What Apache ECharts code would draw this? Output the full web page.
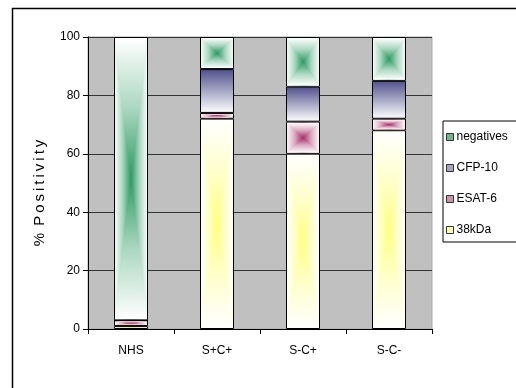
<!DOCTYPE html>
<html>
<head>
<meta charset="utf-8">
<script src="https://cdn.jsdelivr.net/npm/echarts@6/dist/echarts.min.js"></script>
<style>
  html, body { margin: 0; padding: 0; background: #fff; }
  #chart { width: 516px; height: 388px; }
</style>
</head>
<body>
<div id="chart"></div>
<script>
// Groups on the x axis
const categories = ['NHS', 'S+C+', 'S-C+', 'S-C-'];

// Percent positivity for each antigen, stacked bottom to top
const kDa38     = [1, 72, 60, 68];
const esat6     = [2, 2, 11, 4];
const cfp10     = [0, 15, 12, 13];
const negatives = [97, 11, 17, 15];

// Y axis ticks
const yTicks = [0, 20, 40, 60, 80, 100];

const stackOrder = [kDa38, esat6, cfp10, negatives];
const BAR_W = 34;

// Blend a hex colour towards white; k = share of the colour kept
function tint(hex, k) {
  const n = parseInt(hex.slice(1), 16);
  const m = c => Math.round(255 + (c - 255) * k);
  return 'rgb(' + m((n >> 16) & 255) + ',' + m((n >> 8) & 255) + ',' + m(n & 255) + ')';
}

// Horizontal white -> colour -> white band
function band(color) {
  return {
    type: 'linear', x: 0, y: 0, x2: 1, y2: 0,
    colorStops: [
      { offset: 0, color: '#ffffff' },
      { offset: 0.25, color: tint(color, 0.4) },
      { offset: 0.5, color: color },
      { offset: 0.75, color: tint(color, 0.4) },
      { offset: 1, color: '#ffffff' }
    ]
  };
}

// Vertical fade; toEdge true goes colour -> white downwards
function wedgeFill(color, toEdge) {
  const a = [
    { offset: 0, color: '#ffffff' },
    { offset: 0.5, color: tint(color, 0.4) },
    { offset: 1, color: color }
  ];
  const stops = toEdge ? a.map(s => ({ offset: 1 - s.offset, color: s.color })).reverse() : a;
  return { type: 'linear', x: 0, y: 0, x2: 0, y2: 1, colorStops: stops };
}

const blueFill = {
  type: 'linear', x: 0, y: 0, x2: 0, y2: 1,
  colorStops: [{ offset: 0, color: '#50508c' }, { offset: 1, color: '#ffffff' }]
};

function baseBar(name, data, color) {
  return {
    type: 'bar', name: name, data: data, stack: 'fill',
    barWidth: BAR_W, z: 2,
    itemStyle: { color: color, borderColor: '#000', borderWidth: 1 }
  };
}

// Top and bottom wedges fading vertically; with the horizontal band
// underneath, each segment fades from its centre out to all four edges.
function centreShade(name, level, color) {
  return {
    type: 'custom', name: name, z: 3, silent: true,
    data: stackOrder[level].map((v, i) => [i, v]),
    renderItem: function (params, api) {
      const i = api.value(0);
      let lo = 0;
      for (let k = 0; k < level; k++) lo += stackOrder[k][i];
      const hi = lo + api.value(1);
      const pTop = api.coord([i, hi]);
      const pBot = api.coord([i, lo]);
      const x0 = pTop[0] - BAR_W / 2 + 1, x1 = pTop[0] + BAR_W / 2 - 1;
      const y0 = pTop[1] + 1, y1 = pBot[1] - 1;
      if (y1 - y0 < 1) return null;
      const cx = (x0 + x1) / 2, cy = (y0 + y1) / 2;
      return {
        type: 'group',
        children: [
          { type: 'polygon', shape: { points: [[x0, y0], [x1, y0], [cx, cy]] },
            style: { fill: wedgeFill(color, false) } },
          { type: 'polygon', shape: { points: [[cx, cy], [x1, y1], [x0, y1]] },
            style: { fill: wedgeFill(color, true) } }
        ]
      };
    }
  };
}

const chart = echarts.init(document.getElementById('chart'));
chart.setOption({
  animation: false,
  backgroundColor: '#fff',
  textStyle: { fontFamily: 'Liberation Sans, Arial, sans-serif' },
  grid: { left: 88, right: 84, top: 37, bottom: 59, show: true, backgroundColor: '#c0c0c0', borderColor: '#a8a8a8', borderWidth: 1 },
  graphic: [
    {
      type: 'rect', left: 10, top: 6, z: -1,
      shape: { width: 620, height: 500 },
      style: { fill: 'none', stroke: '#000', lineWidth: 1.5 }
    },
    {
      type: 'text', x: 40, y: 193, rotation: Math.PI / 2,
      style: {
        text: '%\u2009 P\u2009o\u2009s\u2009i\u2009t\u2009i\u2009v\u2009i\u2009t\u2009y',
        font: '15px "Liberation Sans", Arial, sans-serif',
        fill: '#000', align: 'center', verticalAlign: 'middle'
      }
    }
  ],
  legend: {
    orient: 'vertical',
    left: 443, top: 121,
    padding: [10, 40, 6, 3],
    itemGap: 19,
    itemWidth: 7, itemHeight: 7,
    borderColor: '#000', borderWidth: 1,
    backgroundColor: '#fff',
    textStyle: { fontSize: 12, color: '#000', padding: [0, 0, 0, -2] },
    data: [
      { name: 'negatives', icon: 'rect', itemStyle: { color: '#6fb690', borderColor: '#333', borderWidth: 1 } },
      { name: 'CFP-10', icon: 'rect', itemStyle: { color: '#a4a4c8', borderColor: '#333', borderWidth: 1 } },
      { name: 'ESAT-6', icon: 'rect', itemStyle: { color: '#c994ab', borderColor: '#333', borderWidth: 1 } },
      { name: '38kDa', icon: 'rect', itemStyle: { color: '#ffffb0', borderColor: '#333', borderWidth: 1 } }
    ]
  },
  xAxis: {
    type: 'category',
    data: categories,
    boundaryGap: true,
    axisLine: { lineStyle: { color: '#000' } },
    axisTick: { show: true, length: 5, lineStyle: { color: '#000' } },
    axisLabel: { color: '#000', fontSize: 12, margin: 16 }
  },
  yAxis: {
    type: 'value',
    min: yTicks[0], max: yTicks[yTicks.length - 1], interval: 20,
    axisLine: { show: true, lineStyle: { color: '#000' } },
    axisTick: { show: true, length: 5, lineStyle: { color: '#000' } },
    axisLabel: { color: '#000', fontSize: 12, margin: 8 },
    splitLine: { lineStyle: { color: '#333', width: 1 } }
  },
  series: [
    baseBar('38kDa', kDa38, band('#ffff80')),
    baseBar('ESAT-6', esat6, band('#a8306a')),
    baseBar('CFP-10', cfp10, blueFill),
    baseBar('negatives', negatives, band('#2e9a64')),
    centreShade('38kDa', 0, '#ffff80'),
    centreShade('ESAT-6', 1, '#a8306a'),
    centreShade('negatives', 3, '#2e9a64')
  ]
});
</script>
</body>
</html>
